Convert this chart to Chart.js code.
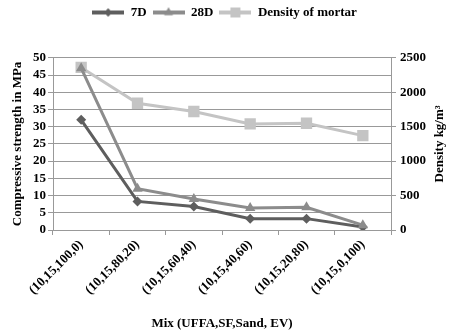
<!DOCTYPE html>
<html>
<head>
<meta charset="utf-8">
<script src="https://cdn.jsdelivr.net/npm/chart.js@4.4.0/dist/chart.umd.min.js"></script>
<style>
  html, body { margin: 0; padding: 0; background: #fff; }
  #wrap { width: 449px; height: 335px; position: relative; }
</style>
</head>
<body>
<div id="wrap"><canvas id="chart"></canvas></div>
<script>
var mixes = ['(10,15,100,0)', '(10,15,80,20)', '(10,15,60,40)', '(10,15,40,60)', '(10,15,20,80)', '(10,15,0,100)'];
var strength7D = [32, 8.3, 6.8, 3.3, 3.3, 0.9];
var strength28D = [47, 12, 9, 6.4, 6.6, 1.4];
var density = [2360, 1840, 1720, 1540, 1550, 1370];
var strengthTicks = [0, 5, 10, 15, 20, 25, 30, 35, 40, 45, 50];
var densityTicks = [0, 500, 1000, 1500, 2000, 2500];

var fontFamily = '"Liberation Serif", "Times New Roman", serif';
var tickFont = { family: fontFamily, size: 13, weight: 'bold' };

function legendIcon(color, style, radius) {
    var c = document.createElement('canvas');
    c.width = 32;
    c.height = 14;
    var ctx = c.getContext('2d');
    ctx.strokeStyle = color;
    ctx.lineWidth = 4;
    ctx.beginPath();
    ctx.moveTo(0, 7);
    ctx.lineTo(32, 7);
    ctx.stroke();
    ctx.fillStyle = color;
    Chart.helpers.drawPoint(ctx, { pointStyle: style, radius: radius, borderWidth: 0 }, 16, 7);
    ctx.fill();
    return c;
}

var series = [
    { label: '7D', data: strength7D, color: '#5e5e5e', style: 'rectRot', radius: 5, axis: 'y' },
    { label: '28D', data: strength28D, color: '#8c8c8c', style: 'triangle', radius: 6, axis: 'y' },
    { label: 'Density of mortar', data: density, color: '#c4c4c4', style: 'rect', radius: 8, axis: 'y1' }
];

var datasets = series.map(function (s) {
    return {
        label: s.label,
        data: s.data,
        yAxisID: s.axis,
        borderColor: s.color,
        backgroundColor: s.color,
        borderWidth: 3,
        pointStyle: s.style,
        pointRadius: s.radius,
        pointBorderWidth: 0,
        tension: 0,
        order: s.axis === 'y1' ? 3 : (s.label === '7D' ? 2 : 1)
    };
});

var rightTitle = {
    id: 'rightTitle',
    afterDraw: function (chart) {
        var ctx = chart.ctx;
        var area = chart.chartArea;
        ctx.save();
        ctx.translate(440, (area.top + area.bottom) / 2);
        ctx.rotate(-Math.PI / 2);
        ctx.font = 'bold 13px ' + fontFamily;
        ctx.fillStyle = '#000';
        ctx.textAlign = 'center';
        ctx.textBaseline = 'middle';
        ctx.fillText('Density kg/m\u00B3', 0, 0);
        ctx.restore();
    }
};

new Chart(document.getElementById('chart'), {
    type: 'line',
    data: { labels: mixes, datasets: datasets },
    plugins: [rightTitle],
    options: {
        responsive: true,
        maintainAspectRatio: false,
        animation: false,
        layout: { padding: { top: 0, left: 0, right: 0, bottom: 0 } },
        plugins: {
            tooltip: { enabled: false },
            // empty title used as a spacer between legend and plot
            title: { display: true, text: '', weight: 500, padding: { top: 0, bottom: 12 }, font: { size: 14 } },
            legend: {
                position: 'top',
                labels: {
                    usePointStyle: true,
                    pointStyleWidth: 32,
                    color: '#000',
                    font: { family: fontFamily, size: 13, weight: 'bold' },
                    padding: 6,
                    generateLabels: function (chart) {
                        return series.map(function (s, i) {
                            return {
                                text: s.label,
                                pointStyle: legendIcon(s.color, s.style, s.radius - 1),
                                fillStyle: s.color,
                                strokeStyle: s.color,
                                lineWidth: 0,
                                hidden: false,
                                datasetIndex: i
                            };
                        });
                    }
                }
            }
        },
        scales: {
            x: {
                offset: true,
                afterFit: function (scale) { scale.height = 105; },
                grid: { display: true, drawOnChartArea: false, color: '#999', tickLength: 5, offset: true },
                border: { color: '#999' },
                ticks: { color: '#000', font: tickFont, minRotation: 45, maxRotation: 45, padding: 2 },
                title: {
                    display: true,
                    text: 'Mix (UFFA,SF,Sand, EV)',
                    color: '#000',
                    font: { family: fontFamily, size: 13, weight: 'bold' },
                    padding: { top: 0, bottom: 4 }
                }
            },
            y: {
                position: 'left',
                min: 0,
                max: 50,
                afterFit: function (scale) { scale.width = 53; },
                afterBuildTicks: function (scale) {
                    scale.ticks = strengthTicks.map(function (v) { return { value: v }; });
                },
                grid: { color: '#999', tickLength: 5 },
                border: { color: '#999' },
                ticks: { color: '#000', font: tickFont, padding: 2, autoSkip: false },
                title: {
                    display: true,
                    text: 'Compressive strength in MPa',
                    color: '#000',
                    font: { family: fontFamily, size: 13, weight: 'bold' },
                    padding: { top: 10, bottom: 0 }
                }
            },
            y1: {
                position: 'right',
                min: 0,
                max: 2500,
                afterFit: function (scale) { scale.width = 58; },
                afterBuildTicks: function (scale) {
                    scale.ticks = densityTicks.map(function (v) { return { value: v }; });
                },
                grid: { drawOnChartArea: false, color: '#999', tickLength: 5 },
                border: { color: '#999' },
                ticks: {
                    color: '#000',
                    font: tickFont,
                    padding: 4,
                    autoSkip: false,
                    callback: function (value) { return String(value); }
                }
            }
        }
    }
});
</script>
</body>
</html>
